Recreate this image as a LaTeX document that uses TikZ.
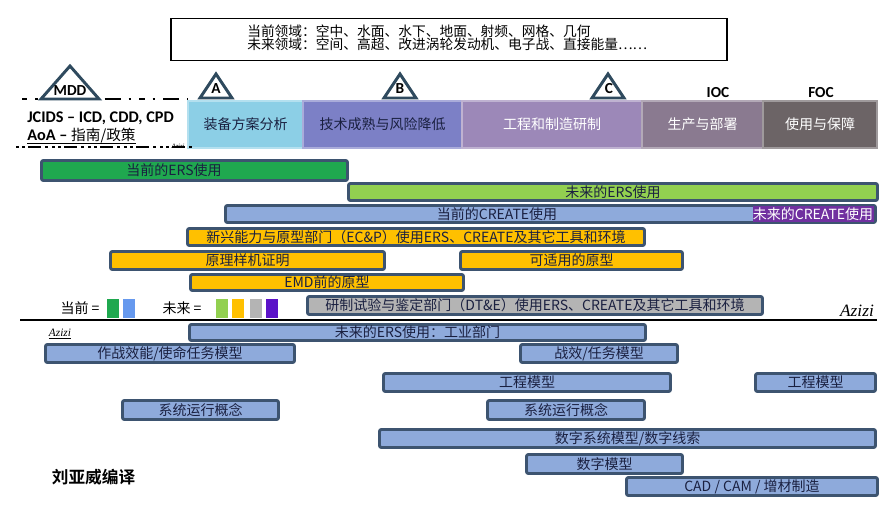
\documentclass[tikz,border=0pt]{standalone}
\usepackage{fontspec}
\setmainfont{Carlito}
\newfontfamily\cjk{Noto Sans CJK SC}
\newfontfamily\cjkb{Noto Sans CJK SC Bold}
\newfontfamily\hand{Liberation Serif}
\definecolor{barline}{HTML}{3D5470}
\definecolor{bartext}{HTML}{1A2040}
\definecolor{cgreen}{HTML}{1FA84F}
\definecolor{clgreen}{HTML}{92D050}
\definecolor{cblue}{HTML}{8EAADB}
\definecolor{corange}{HTML}{FFC000}
\definecolor{cgray}{HTML}{B4B4B4}
\definecolor{cpurple}{HTML}{7030A0}
\definecolor{lgblue}{HTML}{6699EE}
\definecolor{lgpurple}{HTML}{5B12C8}
\definecolor{phA}{HTML}{8CCFE6}
\definecolor{phB}{HTML}{7C80C6}
\definecolor{phC}{HTML}{9C88B8}
\definecolor{phD}{HTML}{8A7A90}
\definecolor{phE}{HTML}{6C6466}
\definecolor{tri}{HTML}{2F4A5E}
\tikzset{
  tbar/.style={draw=barline, line width=2.2pt, rounded corners=1.5pt, inner sep=0pt,
    font=\cjk\fontsize{10.5}{12}\selectfont, text=bartext},
  phase/.style={draw=#1!65!white, fill=#1, line width=1.6pt, inner sep=0pt,
    minimum height={47*0.75pt}, font=\cjk\fontsize{10.5}{12}\selectfont},
  milestone/.style={draw=tri, line width=2.2pt, fill=white, line join=miter},
  mtext/.style={font=\bfseries\fontsize{11.5}{12}\selectfont, text=black, inner sep=0pt},
  lbl/.style={font=\cjk\fontsize{10.5}{12}\selectfont, text=bartext, inner sep=0pt},
  sq/.style={inner sep=0pt, minimum width={12*0.75pt}, minimum height={19*0.75pt}}
}
\newcommand\tlbar[7]{\node[tbar, fill=#5, minimum width={(#3-#1-3)*0.75pt},
  minimum height={(#4-#2-3)*0.75pt}] (#6) at ({(#1+#3)/2},{(#2+#4)/2}) {#7};}
\begin{document}
\begin{tikzpicture}[x=0.75pt, y=-0.75pt]
\useasboundingbox[fill=white] (0,0) rectangle (896,507);
% top box
\node[draw=black, line width=0.9pt, minimum width={(556)*0.75pt}, minimum height={(42)*0.75pt}] (top) at (449,39.5) {};
\node[anchor=west, inner sep=0pt, align=left, font=\cjk\fontsize{10.3}{9.6}\selectfont] (toptext) at (247,38)
  {当前领域：空中、水面、水下、地面、射频、网格、几何\\未来领域：空间、高超、改进涡轮发动机、电子战、直接能量……};
% phase boxes
\node[phase=phA, minimum width={115*0.75pt}, text=bartext] (pa) at (245.5,124.5) {装备方案分析};
\node[phase=phB, minimum width={159*0.75pt}, text=bartext] (pb) at (382.5,124.5) {技术成熟与风险降低};
\node[phase=phC, minimum width={180*0.75pt}, text=white] (pc) at (552,124.5) {工程和制造研制};
\node[phase=phD, minimum width={121*0.75pt}, text=white] (pd) at (702.5,124.5) {生产与部署};
\node[phase=phE, minimum width={114*0.75pt}, text=white] (pe) at (820,124.5) {使用与保障};
% dashed lines
\coordinate (d1a) at (22,99); \coordinate (d1b) at (188,99);
\coordinate (d2a) at (16,147); \coordinate (d2b) at (195,147);
\draw[line width=1.8pt, dash pattern=on 4pt off 6pt on 2pt off 6pt on 12pt off 6pt on 2pt off 6pt] (d1a) -- (d1b);
\draw[line width=1.9pt, dash pattern=on 2pt off 2.5pt on 2pt off 2.5pt on 10pt off 3pt on 2pt off 3pt] (d2a) -- (d2b);
% milestones
\draw[milestone] (41,99) -- (70,66) -- (99,99) -- cycle;
\node[mtext] (mdd) at (70,91) {MDD};
\draw[milestone] (200,98) -- (216,74) -- (232,98) -- cycle;
\node[mtext] (ma) at (216,89) {A};
\draw[milestone] (384,98) -- (400,74) -- (416,98) -- cycle;
\node[mtext] (mb) at (400,89) {B};
\draw[milestone] (592,98) -- (608,74) -- (624,98) -- cycle;
\node[mtext] (mc) at (609,89) {C};
\node[mtext] (ioc) at (718,93) {IOC};
\node[mtext] (foc) at (821,93) {FOC};
\node[anchor=west, inner sep=0pt, font=\bfseries\fontsize{12.2}{13}\selectfont] (jcids) at (27,118) {JCIDS – ICD, CDD, CPD};
\node[anchor=west, inner sep=0pt, font=\fontsize{12.2}{13}\selectfont] (aoa) at (27,136) {\textbf{AoA –} {\cjk\fontsize{11}{13}\selectfont 指南/政策}};
\draw[line width=0.7pt] (aoa.south west) -- (aoa.south east);
\node[inner sep=0pt, font=\hand\itshape\fontsize{5}{6}\selectfont] (az0) at (178,146) {Azizi};
% bars
\tlbar{40}{159}{349}{182}{cgreen}{b1}{}
\node[lbl] (b1t) at (174,170.5) {当前的ERS使用};
\tlbar{347}{182}{879}{202}{clgreen}{b2}{未来的ERS使用}
\tlbar{224}{204}{877}{224}{cblue}{b3}{}
\node[fill=cpurple, inner sep=0pt, minimum width={121*0.75pt}, minimum height={16*0.75pt},
  font=\cjk\fontsize{10.5}{12}\selectfont, text=white] (b3f) at (813,214) {未来的CREATE使用};
\node[lbl] (b3t) at (497,214) {当前的CREATE使用};
\tlbar{186}{227}{646}{247}{corange}{b4}{新兴能力与原型部门（EC\&P）使用ERS、CREATE及其它工具和环境}
\tlbar{109}{250}{386}{271}{corange}{b5}{原理样机证明}
\tlbar{459}{250}{684}{271}{corange}{b6}{可适用的原型}
\tlbar{189}{273}{465}{292}{corange}{b7}{EMD前的原型}
\tlbar{306}{295}{764}{316}{cgray}{b8}{研制试验与鉴定部门（DT\&E）使用ERS、CREATE及其它工具和环境}
% legend
\node[lbl, text=black] (lg1) at (80,308) {当前 =};
\node[sq, fill=cgreen] (s1) at (112.5,308.5) {};
\node[sq, fill=lgblue] (s2) at (128.5,308.5) {};
\node[lbl, text=black] (lg2) at (182,308) {未来 =};
\node[sq, fill=clgreen] (s3) at (221.5,308.5) {};
\node[sq, fill=corange] (s4) at (238,308.5) {};
\node[sq, fill=cgray] (s5) at (255.5,308.5) {};
\node[sq, fill=lgpurple] (s6) at (272,308.5) {};
% divider
\coordinate (la) at (20,320); \coordinate (lb) at (877,320);
\draw[line width=0.8pt] (la) -- (lb);
\node[inner sep=0pt, font=\hand\itshape\fontsize{13}{14}\selectfont] (az1) at (857,311) {Azizi};
\node[inner sep=0pt, font=\hand\itshape\fontsize{8.5}{9}\selectfont] (az2) at (60,334) {\underline{Azizi}};
% lower bars
\tlbar{188}{323}{647}{342}{cblue}{c1}{未来的ERS使用：工业部门}
\tlbar{44}{343}{296}{364}{cblue}{c2}{作战效能/使命任务模型}
\tlbar{519}{343}{679}{364}{cblue}{c3}{战效/任务模型}
\tlbar{382}{372}{672}{393}{cblue}{c4}{工程模型}
\tlbar{754}{372}{877}{393}{cblue}{c5}{工程模型}
\tlbar{121}{399}{280}{421}{cblue}{c6}{系统运行概念}
\tlbar{486}{399}{646}{421}{cblue}{c7}{系统运行概念}
\tlbar{378}{428}{877}{449}{cblue}{c8}{数字系统模型/数字线索}
\tlbar{525}{453}{684}{475}{cblue}{c9}{数字模型}
\tlbar{625}{476}{879}{497}{cblue}{c10}{CAD / CAM / 增材制造}
\node[inner sep=0pt, font=\cjkb\fontsize{12.5}{14}\selectfont] (author) at (93.5,477) {刘亚威编译};
\end{tikzpicture}
\end{document}
